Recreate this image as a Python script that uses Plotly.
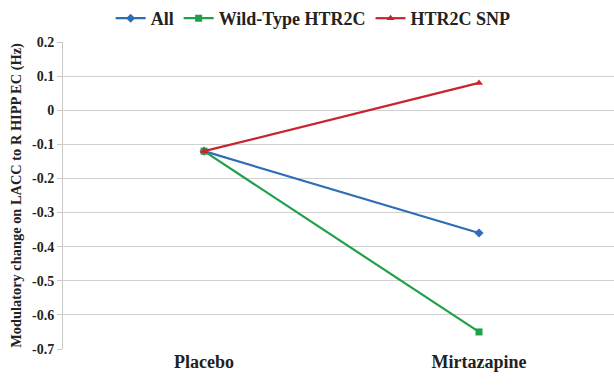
import plotly.graph_objects as go

categories = ["Placebo", "Mirtazapine"]
series_names = ["All", "Wild-Type HTR2C", "HTR2C SNP"]
all_vals = [-0.12, -0.36]
wt_vals = [-0.12, -0.65]
snp_vals = [-0.12, 0.08]
y_ticks = [0.2, 0.1, 0, -0.1, -0.2, -0.3, -0.4, -0.5, -0.6, -0.7]
y_tick_labels = ["0.2", "0.1", "0", "-0.1", "-0.2", "-0.3", "-0.4", "-0.5", "-0.6", "-0.7"]

colors = ["#2F6DB5", "#1FA04A", "#C8232E"]
symbols = ["diamond", "square", "triangle-up"]
values = [all_vals, wt_vals, snp_vals]

font = "'Liberation Serif', 'Times New Roman', serif"

fig = go.Figure()
for name, vals, c, s in zip(series_names, values, colors, symbols):
    fig.add_trace(go.Scatter(
        x=categories, y=vals, name="<b>" + name + "</b>", mode="lines+markers",
        line=dict(color=c, width=2.2),
        marker=dict(symbol=s, color=c, size=7),
    ))

fig.update_layout(
    width=614, height=385,
    margin=dict(l=63, r=0, t=42, b=36, autoexpand=False),
    paper_bgcolor="white", plot_bgcolor="white",
    font=dict(family=font, color="#222222"),
    showlegend=True,
    legend=dict(orientation="h", xref="container", x=0.51, xanchor="center",
                yref="container", y=1.0, yanchor="top",
                font=dict(family=font, size=18, color="#222222"),
                itemwidth=30, traceorder="normal", tracegroupgap=0,
                bgcolor="rgba(0,0,0,0)"),
    xaxis=dict(
        type="category", range=[-0.513, 1.491], automargin=False,
        showgrid=False, showline=False, zeroline=False,
        ticks="", tickfont=dict(family=font, size=18, color="#222222"),
        tickprefix="<b>", ticksuffix="</b>",
    ),
    yaxis=dict(
        range=[-0.7, 0.2], tickvals=y_ticks, ticktext=["<b>" + t + "</b>" for t in y_tick_labels],
        automargin=False,
        showgrid=True, gridcolor="#D0D0D0", gridwidth=1,
        showline=True, linecolor="#C8C8C8", linewidth=1,
        ticks="outside", ticklen=5, tickcolor="#C8C8C8",
        zeroline=False,
        tickfont=dict(family=font, size=14, color="#222222"),
        title=dict(text="<b>Modulatory change on LACC to R HIPP EC (Hz)</b>",
                   font=dict(family=font, size=14.4, color="#222222"), standoff=6),
    ),
)

fig.write_html("out.html", config={"displayModeBar": False},
               post_script="document.body.style.margin='0';document.body.style.overflow='hidden';")
